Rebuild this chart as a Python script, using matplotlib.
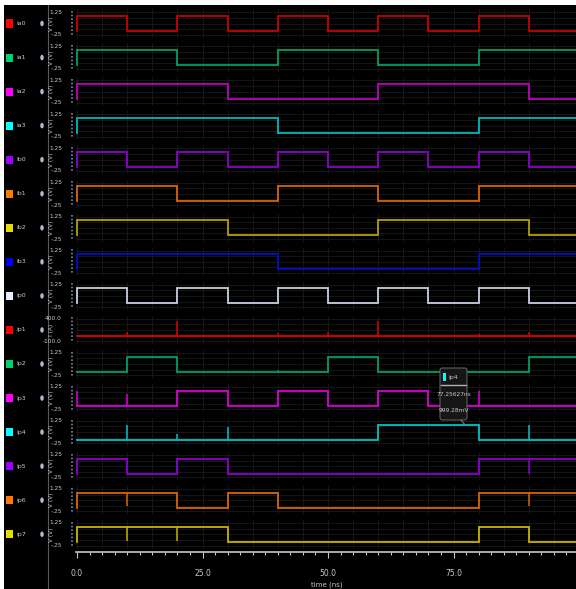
import matplotlib
matplotlib.use("Agg")
import matplotlib.pyplot as plt
from matplotlib.lines import Line2D
from matplotlib.patches import Rectangle, Ellipse, FancyBboxPatch

# signal names, top to bottom
names = ["ia0", "ia1", "ia2", "ia3", "ib0", "ib1", "ib2", "ib3",
         "ip0", "ip1", "ip2", "ip3", "ip4", "ip5", "ip6", "ip7"]

# digital traces: level at t=0 (1 = high) and toggle times in ns
starts = [1, 1, 1, 1, 1, 1, 1, 1, 1, None, 0, 0, 0, 1, 1, 1]
edges = [
    [10, 20, 30, 40, 50, 60, 70, 80, 90],
    [20, 40, 60, 80],
    [30, 60, 90],
    [40, 80],
    [10, 20, 30, 40, 50, 60, 70, 80, 90],
    [20, 40, 60, 80],
    [30, 60, 90],
    [40, 80],
    [10, 20, 30, 40, 50, 60, 70, 80, 90],
    None,
    [10, 20, 50, 60, 90],
    [20, 30, 40, 50, 60, 70],
    [60, 80],
    [10, 20, 30, 80],
    [20, 30, 40, 80],
    [30, 80, 90],
]
# switching glitches: times (ns) and level reached (V)
glitch_t = [[], [], [], [], [], [], [], [], [], None,
            [40], [0, 10, 80], [10, 20, 30, 90], [90], [10, 90], [10, 20]]
glitch_v = [[], [], [], [], [], [], [], [], [], None,
            [0.12], [1.0, 0.75, 1.0], [0.95, 0.35, 0.85, 0.95], [0.0], [0.1, 0.1],
            [0.05, 0.05]]

# ip1 supply current trace
ip1_base = 15.0
ip1_spike_t = [10, 20, 40, 50, 60, 80, 90]
ip1_spike_v = [110, 340, 80, 110, 340, 70, 100]

trace_colors = ["#c80000", "#00a060", "#c000c0", "#00b8b8", "#8c00cc", "#dc6400",
                "#b4a000", "#0010c8", "#c8d0e0", "#e00000", "#00a060", "#d800d8",
                "#00c4c4", "#8c00d0", "#dc6400", "#c8b400"]
swatch_colors = ["#ff0000", "#00d070", "#ff00ff", "#00ffff", "#9a00ff", "#ff7800",
                 "#e6dc00", "#0000ff", "#e6ebff", "#ff0000", "#00d070", "#ff00ff",
                 "#00ffff", "#9a00ff", "#ff7800", "#e6dc00"]

time_ticks = [0, 25, 50, 75]
time_labels = ["0.0", "25.0", "50.0", "75.0"]
T_END = 100.0

marker_t = 77.25627
marker_v = 0.99928

W, H = 576, 589
fig = plt.figure(figsize=(W / 100, H / 100), dpi=100)
fig.patch.set_facecolor("white")


def fx(px):
    return px / W


def fy(py):
    return 1 - py / H


fig.add_artist(Rectangle((fx(4), 0), 1 - fx(4), fy(5), transform=fig.transFigure,
                         facecolor="black", edgecolor="none", zorder=0))
fig.add_artist(Line2D([fx(48), fx(48)], [0, fy(5)], transform=fig.transFigure,
                      color="#5a5a5a", lw=0.8))

PITCH = 34.05
LEFT, WIDTH = 75.5, 500.5
XMIN, XMAX = -0.3, 99.4
txt = "#c8c8c8"
LW = 1.3


def step_trace(start, toggles):
    level = float(start)
    xs, ys = [0.0, 0.0], [0.0, level]
    for e in toggles:
        xs += [e, e]
        ys += [level, 1.0 - level]
        level = 1.0 - level
    xs.append(T_END)
    ys.append(level)
    return xs, ys


axes = []
for k, name in enumerate(names):
    y_hi = 16 + PITCH * k
    y_lo = y_hi + 15
    ax = fig.add_axes([fx(LEFT), fy(y_lo + 6.75), WIDTH / W, 28.5 / H])
    ax.set_facecolor("none")
    for s in ax.spines.values():
        s.set_visible(False)
    ax.set_xlim(XMIN, XMAX)
    ax.tick_params(length=0, labelleft=False, labelbottom=False)
    ax.set_xticks(range(0, 100, 5))
    axes.append(ax)

    if starts[k] is None:
        # analog current row
        scale = 500 / 1.5
        off = -100 + 0.25 * scale
        ax.set_ylim(-0.45 * scale + off, 1.45 * scale + off)
        ax.set_yticks([-100, 25, 150, 275, 400])
        ax.grid(True, color="#1a1a1a", lw=0.6)
        ax.plot([0, T_END], [ip1_base, ip1_base], color=trace_colors[k], lw=LW)
        ax.vlines(ip1_spike_t, ip1_base, ip1_spike_v, color=trace_colors[k], lw=1.1)
        top_lbl, bot_lbl = "400.0", "-100.0"
    else:
        ax.set_ylim(-0.45, 1.45)
        ax.set_yticks([-0.25, 0.125, 0.5, 0.875, 1.25])
        ax.grid(True, color="#1a1a1a", lw=0.6)
        xs, ys = step_trace(starts[k], edges[k])
        ax.plot(xs, ys, color=trace_colors[k], lw=LW, solid_joinstyle="miter")
        if glitch_t[k]:
            base = []
            for t in glitch_t[k]:
                lvl = starts[k]
                for e in edges[k]:
                    if e <= t:
                        lvl = 1 - lvl
                base.append(float(lvl))
            ax.vlines(glitch_t[k], base, glitch_v[k], color=trace_colors[k], lw=1.1)
        top_lbl, bot_lbl = "1.25", "-.25"

    yc = y_hi + 7.5
    fig.add_artist(Rectangle((fx(6), fy(yc + 4)), 7 / W, 8 / H, transform=fig.transFigure,
                             facecolor=swatch_colors[k], edgecolor="none"))
    fig.text(fx(16), fy(yc), name, color=txt, fontsize=4.5, va="center", ha="left")
    fig.add_artist(Ellipse((fx(42), fy(yc)), 3.5 / W, 5.5 / H, transform=fig.transFigure,
                           facecolor="#aebbd8", edgecolor="none"))
    unit = "I (A)" if starts[k] is None else "V (V)"
    fig.text(fx(51.5), fy(yc), unit, color=txt, fontsize=4.2, rotation=90,
             va="center", ha="center")
    fig.text(fx(62), fy(y_hi - 3.75), top_lbl, color=txt, fontsize=4.2,
             va="center", ha="right")
    fig.text(fx(62), fy(y_lo + 3.75), bot_lbl, color=txt, fontsize=4.2,
             va="center", ha="right")
    fig.add_artist(Line2D([fx(72), fx(72)], [fy(y_hi - 5), fy(y_lo + 5)],
                          transform=fig.transFigure, color="#7888a0", lw=1.2,
                          linestyle=(0, (1, 1.2))))

# marker readout on ip4
ax4 = axes[12]
bx, by, bw, bh = 440, 368, 27, 52
fig.add_artist(FancyBboxPatch((fx(bx), fy(by + bh)), bw / W, bh / H,
                              boxstyle="round,pad=0,rounding_size=0.004",
                              transform=fig.transFigure, facecolor="#161616",
                              edgecolor="#6a6a6a", lw=0.7, zorder=5))
px, py = ax4.transData.transform((marker_t, marker_v))
fig.add_artist(Line2D([fx(bx + bw - 6), px / W], [fy(by + bh), py / fig.bbox.height],
                      transform=fig.transFigure, color="#8a8a8a", lw=0.7, zorder=5))
fig.add_artist(Rectangle((fx(442.5), fy(381)), 3 / W, 8 / H, transform=fig.transFigure,
                         facecolor="#00ffff", edgecolor="none", zorder=6))
fig.text(fx(448), fy(377), names[12], color=txt, fontsize=4.5, va="center", zorder=6)
fig.add_artist(Line2D([fx(441), fx(466)], [fy(385), fy(385)], transform=fig.transFigure,
                      color="#b0b0b0", lw=1.0, zorder=6))
fig.text(fx(453.5), fy(395), f"{marker_t:.5f}ns", color=txt, fontsize=4.2,
         ha="center", va="center", zorder=6)
fig.text(fx(453.5), fy(410), f"{marker_v * 1000:.2f}mV", color=txt, fontsize=4.2,
         ha="center", va="center", zorder=6)

# time axis
axt = fig.add_axes([fx(LEFT), fy(552), WIDTH / W, 1 / H])
axt.set_facecolor("none")
for side in ("top", "left", "right"):
    axt.spines[side].set_visible(False)
axt.spines["bottom"].set_color("#c8c8c8")
axt.spines["bottom"].set_linewidth(1.2)
axt.set_xlim(XMIN, XMAX)
axt.set_yticks([])
axt.set_xticks(time_ticks, time_labels)
axt.set_xticks([t * 2.5 for t in range(40)], minor=True)
axt.tick_params(axis="x", which="major", length=4.5, width=0.8, color="#c8c8c8",
                labelcolor=txt, labelsize=5.5, pad=8)
axt.tick_params(axis="x", which="minor", length=2.4, width=0.8, color="#c8c8c8")
fig.text(fx(327), fy(587.5), "time (ns)", color=txt, fontsize=5, ha="center",
         va="bottom")

fig.savefig("out.png", dpi=100, facecolor=fig.get_facecolor())
